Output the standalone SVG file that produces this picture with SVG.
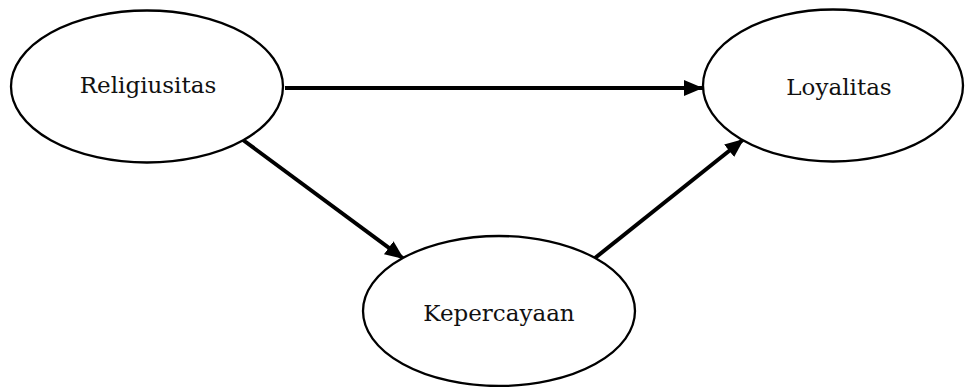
<svg xmlns="http://www.w3.org/2000/svg" width="965" height="387" viewBox="0 0 965 387">
<defs>
<style>
.node ellipse{fill:#fff;stroke:#000;stroke-width:2.3}
.node text{font-family:"DejaVu Serif","Liberation Serif",serif;font-size:23px;fill:#111;text-anchor:middle}
.conn line{stroke:#000;stroke-width:4}
</style>
<marker id="ah" markerUnits="userSpaceOnUse" markerWidth="22" markerHeight="18" refX="19" refY="8" orient="auto">
<path d="M0,0 L19,8 L0,16 Z" fill="#000"/>
</marker>
</defs>
<rect width="965" height="387" fill="#fff"/>
<g id="connectors" class="conn">
<line x1="285" y1="88" x2="703" y2="88" marker-end="url(#ah)"/>
<line x1="243" y1="140" x2="404" y2="259" marker-end="url(#ah)"/>
<line x1="595" y1="258" x2="744" y2="139" marker-end="url(#ah)"/>
</g>
<g id="religiusitas" class="node">
<ellipse cx="147" cy="86.5" rx="136" ry="76"/>
<text x="148" y="93">Religiusitas</text>
</g>
<g id="loyalitas" class="node">
<ellipse cx="833" cy="85.5" rx="130" ry="76"/>
<text x="839" y="95">Loyalitas</text>
</g>
<g id="kepercayaan" class="node">
<ellipse cx="499" cy="311" rx="136" ry="75"/>
<text x="499" y="321">Kepercayaan</text>
</g>
</svg>
